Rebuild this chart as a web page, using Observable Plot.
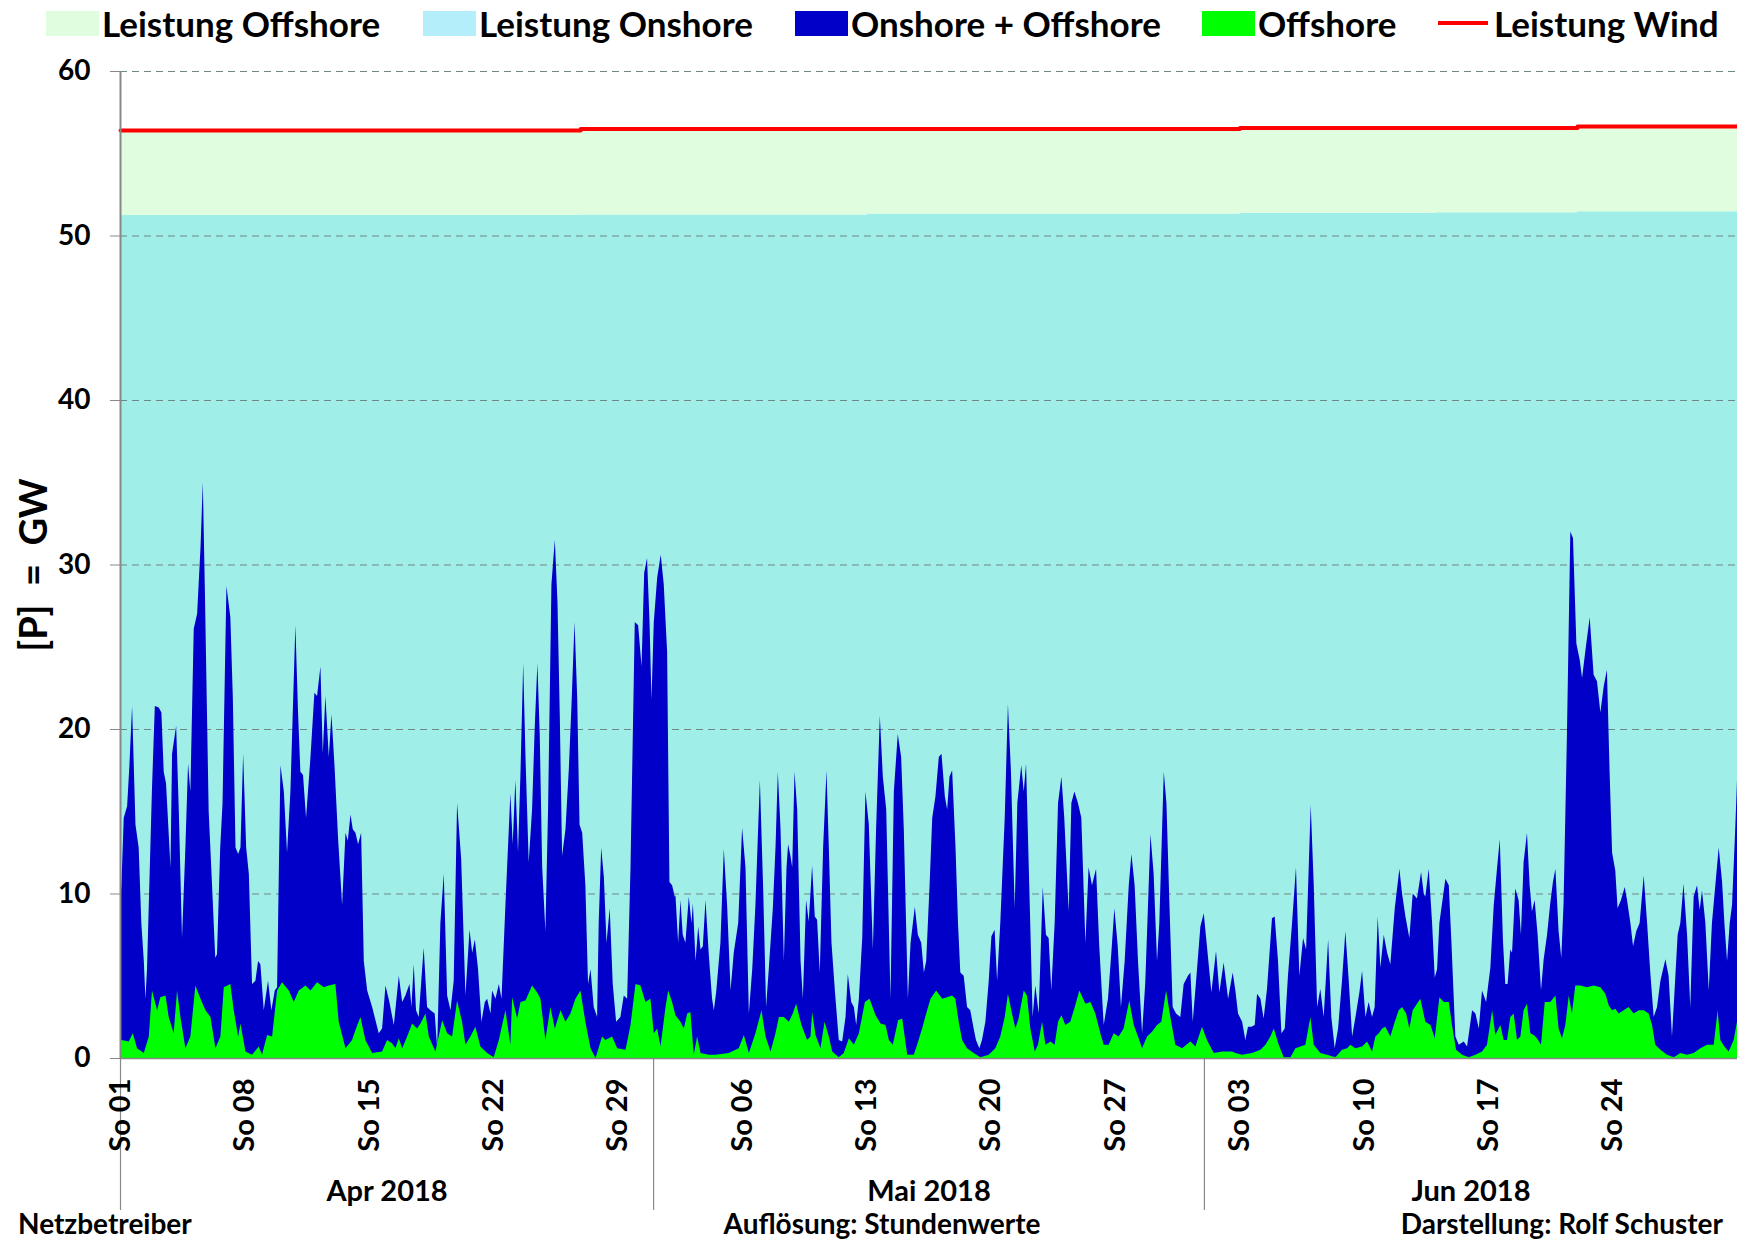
<!DOCTYPE html>
<html>
<head>
<meta charset="utf-8">
<script src="https://cdn.jsdelivr.net/npm/d3@7"></script>
<script src="https://cdn.jsdelivr.net/npm/@observablehq/plot@0.6"></script>
<style>
  body { margin: 0; background: #fff; }
  #wrap { position: relative; width: 1737px; height: 1240px; overflow: hidden;
          font-family: Lato, "Liberation Sans", sans-serif; font-weight: bold; color: #000; }
  #legend { position: relative; height: 48px; }
  .item { position: absolute; top: 0; height: 46px; display: flex; align-items: center; font-size: 35px; white-space: nowrap; }
  .sw { width: 53px; height: 25px; margin-right: 3px; }
  .ln { width: 50px; height: 4px; margin-right: 6px; }
  #chart svg { display: block; }
  #caption { position: relative; height: 30px; font-size: 28px; }
  #caption span { position: absolute; top: -4px; white-space: nowrap; }
</style>
</head>
<body>
<div id="wrap">
  <div id="legend"></div>
  <div id="chart"></div>
  <div id="caption"></div>
</div>
<script>
// ---------------- data ----------------
// day offset from 2018-04-01 00:00, GW
const onOffshoreGW = [
[0,9.5],[0.08,10.5],[0.21,14.6],[0.40,15.3],[0.53,17.8],[0.68,21.4],[0.87,14.2],[1.05,12.8],[1.20,8.2],[1.34,5.9],[1.43,3.6],[1.52,5.4],[1.80,16.4],[1.96,21.4],[2.18,21.3],[2.33,21.0],[2.46,17.4],[2.59,16.7],[2.84,11.6],[2.93,18.5],[3.16,20.2],[3.31,15.0],[3.49,7.3],[3.68,12.8],[3.83,17.9],[3.96,16.2],[4.15,26.1],[4.34,27.0],[4.53,31.0],[4.66,35.0],[4.77,28.8],[4.99,15.0],[5.18,10.5],[5.36,6.1],[5.46,6.3],[5.64,12.8],[5.77,15.5],[5.99,28.7],[6.21,26.8],[6.35,21.9],[6.50,12.8],[6.65,12.4],[6.78,12.8],[6.93,18.5],[7.10,12.8],[7.25,11.2],[7.43,4.5],[7.62,4.7],[7.77,5.9],[7.90,5.7],[8.09,2.9],[8.33,4.7],[8.52,2.9],[8.71,4.1],[8.84,4.3],[9.03,17.8],[9.22,16.2],[9.40,12.5],[9.59,16.2],[9.87,26.3],[10.02,21.0],[10.15,17.4],[10.30,17.2],[10.47,14.6],[10.72,18.3],[10.94,22.2],[11.09,22.0],[11.28,23.8],[11.41,18.5],[11.56,22.0],[11.75,18.3],[11.90,20.9],[12.07,17.8],[12.28,13.2],[12.50,9.3],[12.69,13.7],[12.82,13.2],[12.97,14.8],[13.10,13.9],[13.25,13.7],[13.40,13.0],[13.57,13.7],[13.72,5.9],[13.91,4.1],[14.19,3.1],[14.56,1.5],[14.75,1.8],[14.94,4.4],[15.16,3.4],[15.41,2.0],
[15.69,5.0],[15.88,3.4],[16.06,3.8],[16.29,4.5],[16.40,3.1],[16.53,5.7],[16.66,2.9],[16.81,2.5],[17.09,6.7],[17.28,3.1],[17.47,2.9],[17.71,2.7],[17.85,0.6],[18.03,8.2],[18.22,11.2],[18.41,3.8],[18.60,2.9],[18.78,4.7],[18.97,15.5],[19.20,12.1],[19.44,3.8],[19.67,7.8],[19.82,6.4],[19.97,7.2],[20.15,5.4],[20.34,2.2],[20.53,3.4],[20.66,3.6],[20.85,2.7],[20.94,4.1],[21.13,3.6],[21.32,4.5],[21.47,3.6],[21.69,9.3],[21.97,16.1],[22.10,13.0],[22.25,16.9],[22.40,12.5],[22.54,17.4],[22.69,24.0],[22.82,18.3],[23.00,11.9],[23.19,15.1],[23.34,20.1],[23.49,24.0],[23.62,19.7],[23.76,11.6],[23.94,7.7],[24.09,15.1],[24.28,28.8],[24.47,31.5],[24.62,27.7],[24.75,20.8],[24.88,12.3],[25.07,13.9],[25.26,17.6],[25.41,21.5],[25.58,26.5],[25.73,21.9],[25.86,14.2],[26.01,13.7],[26.19,10.5],[26.34,4.5],[26.48,5.4],[26.66,3.1],[26.85,2.5],[26.94,8.2],[27.08,12.8],[27.23,11.0],[27.38,7.0],[27.56,9.1],[27.73,4.5],[27.92,2.2],[28.16,2.5],[28.35,3.8],[28.54,3.6],[28.73,11.6],[28.97,26.5],[29.16,26.3],[29.35,23.8],[29.50,29.5],[29.66,30.4],[29.80,26.5],[29.91,21.8],[30.04,26.5],[30.23,29.2],[30.43,30.6],[30.60,28.8],[30.79,24.7],[30.92,10.7],[31.07,10.5],[31.22,9.8],
[31.26,9.9],[31.41,7.0],[31.54,9.6],[31.67,7.5],[31.82,7.0],[32.01,9.8],[32.16,8.2],[32.24,9.4],[32.39,5.9],[32.54,8.0],[32.67,6.6],[32.80,6.8],[32.95,9.6],[33.14,6.2],[33.32,3.6],[33.42,2.9],[33.55,4.0],[33.79,7.0],[33.98,12.7],[34.17,9.2],[34.36,4.1],[34.54,6.4],[34.79,8.2],[35.01,14.0],[35.20,11.6],[35.39,2.7],[35.58,5.4],[35.76,9.3],[36.01,16.9],[36.19,10.5],[36.36,3.1],[36.51,5.4],[36.74,9.1],[36.89,12.8],[37.02,17.4],[37.17,14.0],[37.36,5.9],[37.51,11.6],[37.60,13.0],[37.73,12.3],[37.83,11.6],[37.96,17.4],[38.11,15.1],[38.30,5.9],[38.43,3.6],[38.61,9.6],[38.76,8.3],[38.95,11.7],[39.10,8.6],[39.23,8.4],[39.38,5.2],[39.57,12.8],[39.76,17.5],[39.89,12.8],[40.04,7.0],[40.23,4.1],[40.45,1.1],[40.64,1.0],[40.83,2.5],[40.96,5.1],[41.15,3.4],[41.30,3.1],[41.43,2.0],[41.58,3.6],[41.77,7.3],[41.95,16.2],[42.14,14.2],[42.37,6.6],[42.55,13.9],[42.76,20.8],[42.93,17.1],[43.12,15.1],[43.36,3.6],[43.55,16.2],[43.77,19.7],[43.96,18.3],[44.11,13.9],[44.34,3.6],[44.49,7.0],[44.73,9.2],[44.90,7.5],[45.09,7.0],[45.24,5.2],[45.37,5.9],[45.56,10.5],[45.71,14.6],[45.89,15.9],[46.08,18.3],[46.23,18.5],[46.42,15.9],[46.55,15.1],[46.68,17.1],[46.83,17.5],[47.02,12.8],
[47.16,8.2],[47.29,5.2],[47.48,5.0],[47.67,3.1],[47.85,2.9],[48.04,1.8],[48.17,1.1],[48.36,0.6],[48.51,1.1],[48.70,2.2],[48.89,4.7],[49.04,7.4],[49.22,7.8],[49.36,4.7],[49.54,8.2],[49.79,14.6],[49.97,21.5],[50.14,17.4],[50.35,9.1],[50.50,15.5],[50.72,17.8],[50.86,16.2],[50.99,17.9],[51.17,10.5],[51.36,2.5],[51.51,4.4],[51.70,2.7],[51.93,10.4],[52.11,7.5],[52.26,7.3],[52.41,4.1],[52.60,8.2],[52.79,15.5],[52.98,17.1],[53.14,14.6],[53.39,8.9],[53.54,15.5],[53.71,16.2],[53.91,15.5],[54.10,14.6],[54.33,7.0],[54.51,11.6],[54.70,10.5],[54.93,11.5],[55.11,6.8],[55.36,2.0],[55.60,3.6],[55.79,6.4],[55.96,9.1],[56.15,6.8],[56.33,3.1],[56.54,5.9],[56.77,10.5],[56.92,12.4],[57.10,10.5],[57.29,5.9],[57.52,1.5],[57.70,4.6],[57.85,9.2],[57.99,13.6],[58.17,11.2],[58.36,5.9],[58.49,8.2],[58.74,17.4],[58.89,15.5],[59.06,9.3],[59.24,3.1],[59.43,2.7],[59.67,2.5],[59.86,4.5],[60.10,5.0],[60.24,5.2],[60.37,2.2],[60.56,4.7],[60.80,8.0],[60.99,8.8],[61.17,6.8],[61.42,4.0],[61.68,6.5],[61.87,4.0],[62.11,5.8],[62.36,3.6],[62.62,5.2],
[62.77,4.1],[62.92,2.7],[63.15,2.2],[63.33,1.1],[63.48,1.9],[63.67,1.9],[63.86,2.0],[63.99,3.9],[64.18,3.6],[64.36,2.4],[64.55,4.2],[64.83,8.5],[64.98,8.6],[65.17,5.9],[65.36,1.5],[65.55,1.8],[65.73,5.0],[65.96,8.2],[66.18,11.6],[66.37,5.0],[66.58,7.3],[66.75,6.6],[67.01,15.4],[67.18,10.5],[67.37,3.1],[67.55,4.2],[67.74,2.5],[67.99,7.2],[68.17,2.5],[68.36,0.6],[68.55,1.8],[68.77,4.7],[68.96,7.7],[69.15,4.7],[69.34,1.3],[69.56,2.7],[69.75,4.0],[69.90,5.3],[70.09,2.5],[70.27,3.4],[70.46,2.5],[70.61,3.1],[70.78,8.6],[70.93,5.5],[71.12,7.5],[71.31,6.4],[71.49,5.7],[71.74,9.1],[72.00,11.5],[72.15,10.0],[72.34,8.6],[72.56,7.3],[72.75,10.0],[72.99,9.7],[73.22,11.3],[73.37,10.0],[73.46,9.8],[73.65,11.5],[73.84,8.2],[73.99,4.9],[74.12,5.4],[74.25,8.2],[74.59,10.9],[74.78,10.5],[74.93,7.0],[75.15,1.3],[75.34,0.8],[75.62,1.0],[75.81,0.7],[76.09,2.9],[76.28,2.7],[76.47,1.8],[76.65,4.1],[76.88,3.4],[77.12,5.5],[77.31,9.3],[77.50,11.6],[77.65,13.3],
[77.83,7.1],[77.96,4.5],[78.09,4.5],[78.24,6.6],[78.34,6.4],[78.52,10.3],[78.71,9.6],[78.84,7.5],[78.99,11.9],[79.18,13.7],[79.33,10.5],[79.46,8.9],[79.61,9.6],[79.78,7.5],[79.97,4.1],[80.12,6.0],[80.31,7.5],[80.49,9.4],[80.64,10.7],[80.78,11.5],[80.96,7.7],[81.11,6.1],[81.24,9.4],[81.43,19.7],[81.62,32.0],[81.77,31.6],[81.96,25.2],[82.15,24.2],[82.28,23.1],[82.46,24.7],[82.71,26.8],[82.93,23.3],[83.12,22.9],[83.31,21.0],[83.50,22.6],[83.68,23.6],[83.83,17.4],[83.97,12.5],[84.15,11.4],[84.28,9.1],[84.47,9.6],[84.68,10.4],[84.81,9.6],[85.00,8.2],[85.15,6.8],[85.33,7.7],[85.52,8.2],[85.75,11.1],[85.94,8.2],[86.12,5.2],[86.31,2.5],[86.50,3.1],[86.69,4.7],[86.97,6.0],[87.15,5.0],[87.34,1.3],[87.47,3.8],[87.66,7.5],[87.81,8.2],[87.99,10.6],[88.19,7.5],[88.37,3.1],[88.56,9.8],[88.75,10.5],[88.90,9.0],[89.03,10.2],[89.22,8.2],[89.41,4.1],[89.59,8.2],[89.78,10.5],[89.97,12.8],[90.16,10.7],[90.29,8.2],[90.44,5.9],[90.59,8.2],[90.72,9.3],[90.90,13.9],[91.00,16.9]
];

const offshoreGW = [
[0,1.0],[0.08,1.1],[0.49,1.0],[0.72,1.5],[0.96,0.6],[1.34,0.3],[1.62,1.3],[1.80,4.1],[2.09,2.9],[2.27,3.7],[2.56,3.8],[2.74,2.5],[3.02,1.5],[3.21,4.1],[3.40,2.5],[3.68,0.6],[3.96,1.3],[4.24,4.4],[4.53,3.6],[4.81,2.9],[5.09,2.5],[5.37,0.6],[5.65,1.3],[5.84,4.3],[6.21,4.5],[6.40,2.9],[6.65,1.3],[6.78,2.1],[7.06,0.4],[7.43,0.2],[7.81,0.7],[7.99,0.2],[8.28,1.4],[8.56,1.3],[8.84,4.1],[9.12,4.6],[9.50,4.1],[9.78,3.4],[10.06,4.1],[10.44,4.4],[10.72,4.1],[11.09,4.6],[11.47,4.3],[11.75,4.4],[12.12,4.5],[12.31,2.2],[12.69,0.6],[13.06,1.1],[13.25,1.7],[13.53,2.5],[13.81,1.1],[14.19,0.3],[14.75,0.4],[15.03,1.1],[15.31,0.9],
[15.50,0.6],[15.69,1.2],[15.88,0.6],[16.16,1.3],[16.44,2.1],[16.72,1.8],[16.91,2.1],[17.19,2.7],[17.38,1.3],[17.75,0.4],[18.13,2.3],[18.41,1.5],[18.69,1.3],[18.97,3.5],[19.25,2.2],[19.44,0.8],[19.72,1.3],[20.00,1.9],[20.28,0.7],[20.66,0.3],[21.03,0.05],[21.32,1.1],[21.69,2.9],[21.97,0.8],[22.07,3.7],[22.35,2.4],[22.54,3.4],[22.82,3.5],[23.19,4.4],[23.47,4.0],[23.66,3.6],[23.94,1.1],[24.22,3.1],[24.47,1.8],[24.79,2.9],[25.07,2.2],[25.35,2.7],[25.63,3.6],[25.91,4.1],[26.19,2.2],[26.48,0.6],[26.76,0.0],[27.13,1.3],[27.32,1.1],[27.69,1.3],[27.98,0.6],[28.45,0.5],[28.73,2.0],[29.01,4.5],[29.29,4.4],[29.57,3.4],[29.85,3.6],[30.04,1.5],[30.23,1.8],[30.42,0.7],[30.70,3.1],[30.85,4.1],[31.07,3.4],
[31.26,2.6],[31.54,2.2],[31.73,1.8],[31.92,2.7],[32.10,2.8],[32.29,0.2],[32.48,1.3],[32.67,0.3],[33.14,0.2],[33.51,0.2],[34.26,0.3],[34.82,0.6],[35.11,1.4],[35.39,0.3],[35.76,1.5],[36.10,2.9],[36.33,1.3],[36.61,0.4],[36.89,1.5],[37.08,2.5],[37.36,2.5],[37.64,2.2],[37.86,2.7],[38.05,3.3],[38.35,2.0],[38.67,1.1],[38.86,1.3],[38.95,2.8],[39.14,1.4],[39.42,0.6],[39.65,2.2],[39.89,1.3],[40.08,0.4],[40.45,0.05],[40.73,0.3],[41.02,1.2],[41.30,0.8],[41.58,1.5],[41.92,3.4],[42.18,3.6],[42.52,2.6],[42.80,2.1],[43.08,2.0],[43.27,1.1],[43.49,0.8],[43.79,2.3],[44.02,2.4],[44.30,0.2],[44.67,0.2],[44.86,0.8],[45.14,1.8],[45.37,2.7],[45.61,3.6],[45.93,4.1],[46.27,3.6],[46.55,3.7],[46.83,3.8],
[47.01,3.6],[47.20,2.2],[47.39,1.1],[47.67,0.6],[48.04,0.3],[48.42,0.05],[48.89,0.2],[49.26,0.6],[49.54,1.3],[49.79,2.5],[49.97,3.9],[50.20,2.7],[50.39,1.8],[50.57,2.4],[50.86,4.1],[51.04,3.8],[51.23,1.8],[51.48,0.4],[51.66,0.8],[51.89,2.2],[52.08,0.8],[52.36,1.0],[52.60,0.8],[52.79,2.2],[52.98,2.6],[53.20,2.0],[53.48,2.2],[53.73,3.1],[53.99,4.1],[54.33,3.3],[54.61,3.4],[54.89,2.7],[55.17,1.5],[55.36,0.8],[55.64,0.8],[55.92,1.5],[56.20,1.3],[56.48,1.8],[56.80,3.5],[57.05,2.0],[57.29,1.3],[57.52,0.6],[57.80,1.3],[58.08,1.6],[58.36,2.0],[58.60,2.2],[58.87,4.1],[59.11,2.5],[59.39,0.8],[59.77,0.6],[60.24,1.0],[60.52,0.7],[60.89,1.9],[61.17,1.1],[61.55,0.3],[62.02,0.4],[62.58,0.4],
[62.77,0.3],[63.15,0.2],[63.71,0.3],[64.18,0.5],[64.46,0.8],[64.74,1.3],[64.93,1.8],[65.21,0.8],[65.49,0.05],[65.87,0.05],[66.15,0.6],[66.43,0.7],[66.71,0.8],[66.99,2.5],[67.18,0.8],[67.55,0.3],[67.93,0.2],[68.40,0.05],[68.77,0.5],[69.06,0.6],[69.24,0.8],[69.52,0.6],[69.90,0.7],[70.18,1.0],[70.46,0.4],[70.65,1.3],[70.84,1.5],[71.03,1.8],[71.21,1.9],[71.49,1.3],[71.74,2.2],[71.96,2.9],[72.15,3.1],[72.38,2.7],[72.56,1.8],[72.75,2.9],[72.99,3.3],[73.18,3.6],[73.46,2.2],[73.75,2.0],[73.99,1.2],[74.25,3.7],[74.50,3.4],[74.78,3.4],[74.96,2.0],[75.19,0.5],[75.53,0.2],[75.90,0.05],[76.28,0.2],[76.65,0.4],[76.93,0.8],[77.22,2.9],[77.40,1.4],
[77.68,2.0],[77.87,1.1],[78.06,1.1],[78.24,2.5],[78.43,2.7],[78.62,1.1],[78.81,1.3],[78.99,2.9],[79.18,3.3],[79.37,1.5],[79.56,1.4],[79.74,1.2],[79.97,0.8],[80.18,3.4],[80.49,3.4],[80.78,3.8],[80.96,1.8],[81.15,1.2],[81.34,2.0],[81.53,3.8],[81.71,2.7],[81.90,4.4],[82.18,4.4],[82.56,4.3],[82.93,4.4],[83.31,4.3],[83.59,3.9],[83.78,3.2],[83.97,2.9],[84.15,3.0],[84.34,2.7],[84.62,2.9],[84.90,3.1],[85.18,2.7],[85.47,2.9],[85.75,2.9],[86.03,2.7],[86.22,2.0],[86.40,0.8],[86.69,0.5],[87.06,0.2],[87.44,0.05],[87.81,0.3],[88.19,0.2],[88.56,0.3],[88.94,0.6],[89.31,0.8],[89.69,0.8],[89.91,2.9],[90.06,1.1],[90.29,0.7],[90.53,0.4],[90.81,1.1],[91.00,2.2]
];

// installed capacity (GW), step values starting at the given day
const capacityDays   = [0, 25.9, 42, 63.0, 74, 82.0, 91];
const onshoreCapGW   = [51.25, 51.28, 51.33, 51.38, 51.42, 51.48, 51.52];
const windCapGW      = [56.42, 56.50, 56.50, 56.56, 56.56, 56.65, 56.65];

const yTicks       = [0, 10, 20, 30, 40, 50, 60];
const sundayTicks  = ["2018-04-01","2018-04-08","2018-04-15","2018-04-22","2018-04-29","2018-05-06","2018-05-13","2018-05-20","2018-05-27","2018-06-03","2018-06-10","2018-06-17","2018-06-24"];
const monthStarts  = ["2018-04-01","2018-05-01","2018-06-01"];
const monthMiddles = ["2018-04-16","2018-05-16T12:00","2018-06-16"];
const monthLabels  = ["Apr 2018","Mai 2018","Jun 2018"];
const yLabel = "[P]\u00a0\u00a0=\u00a0\u00a0GW";

const legendItems = [
  {label: "Leistung Offshore", color: "#e0fde0", kind: "box",  left: 46},
  {label: "Leistung Onshore",  color: "#b3eefa", kind: "box",  left: 423},
  {label: "Onshore + Offshore",color: "#0000c8", kind: "box",  left: 795},
  {label: "Offshore",          color: "#00ff00", kind: "box",  left: 1202},
  {label: "Leistung Wind",     color: "#ff0000", kind: "line", left: 1438}
];
const captions = ["Netzbetreiber", "Auflösung: Stundenwerte", "Darstellung: Rolf Schuster"];

// ---------------- build ----------------
const FONT = 'Lato, "Liberation Sans", sans-serif';
const T0 = Date.UTC(2018, 3, 1);
const at = d => new Date(T0 + d * 86400000);
const utc = s => new Date(s + (s.length === 10 ? "T00:00Z" : "Z"));

const total = onOffshoreGW.map(([d, v]) => ({t: at(d), v}));
const off = offshoreGW.map(([d, v]) => ({t: at(d), v}));
const cap = capacityDays.map((d, i) => ({t: at(d), on: onshoreCapGW[i], wind: windCapGW[i]}));

const sundays = sundayTicks.map(utc);
const mStarts = monthStarts.map(utc);
const mMids = monthMiddles.map(utc);

const chart = Plot.plot({
  width: 1737,
  height: 1162,
  marginLeft: 120,
  marginRight: 0,
  marginTop: 23,
  marginBottom: 152,
  style: {fontFamily: FONT, fontWeight: "bold", background: "white", color: "black", overflow: "visible"},
  x: {type: "utc", domain: [at(0), at(91)]},
  y: {domain: [0, 60]},
  marks: [
    Plot.areaY(cap, {x: "t", y1: 0, y2: "on", fill: "#9feee8", curve: "step-after"}),
    Plot.areaY(cap, {x: "t", y1: "on", y2: "wind", fill: "#e0fde0", curve: "step-after"}),
    Plot.ruleY(yTicks.filter(v => v > 0), {stroke: "#6f8787", strokeWidth: 1, strokeDasharray: "7,5"}),
    Plot.areaY(total, {x: "t", y: "v", fill: "#0000c8"}),
    Plot.areaY(off, {x: "t", y: "v", fill: "#00ff00"}),
    Plot.lineY(cap, {x: "t", y: "wind", stroke: "#ff0000", strokeWidth: 4, curve: "step-after"}),
    Plot.ruleY([0], {stroke: "#888", strokeWidth: 1.5}),
    Plot.ruleX([at(0)], {y1: 0, y2: 60, stroke: "#888", strokeWidth: 2}),
    Plot.axisY({ticks: yTicks, tickSize: 10, tickPadding: 20, fontSize: 28, stroke: "#888", fill: "black", label: null, tickFormat: d => String(d)}),
    Plot.axisX({ticks: mStarts, tickSize: 152, tickFormat: () => "", stroke: "#888", strokeWidth: 1.2, label: null}),
    Plot.axisX({ticks: sundays, tickSize: 0, tickPadding: 20, tickRotate: -90, fontSize: 29, fill: "black", label: null,
                tickFormat: d => "So " + String(d.getUTCDate()).padStart(2, "0")}),
    Plot.axisX({ticks: mMids, tickSize: 0, tickPadding: 122, fontSize: 29, fill: "black", label: null,
                tickFormat: d => monthLabels[mMids.findIndex(m => +m === +d)]}),
    Plot.text([yLabel], {frameAnchor: "left", textAnchor: "middle", dx: -86, rotate: -90, fontSize: 38, fontWeight: "bold", fill: "black"})
  ]
});
document.getElementById("chart").appendChild(chart);

// legend
const legend = document.getElementById("legend");
for (const it of legendItems) {
  const el = document.createElement("div");
  el.className = "item";
  el.style.left = it.left + "px";
  const sw = document.createElement("div");
  sw.className = it.kind === "line" ? "ln" : "sw";
  sw.style.background = it.color;
  el.appendChild(sw);
  const tx = document.createElement("span");
  tx.textContent = it.label;
  el.appendChild(tx);
  legend.appendChild(el);
}

// caption
const cap_ = document.getElementById("caption");
const c0 = document.createElement("span"); c0.textContent = captions[0]; c0.style.left = "18px";
const c1 = document.createElement("span"); c1.textContent = captions[1]; c1.style.left = "882px"; c1.style.transform = "translateX(-50%)";
const c2 = document.createElement("span"); c2.textContent = captions[2]; c2.style.right = "14px";
cap_.append(c0, c1, c2);
</script>
</body>
</html>
